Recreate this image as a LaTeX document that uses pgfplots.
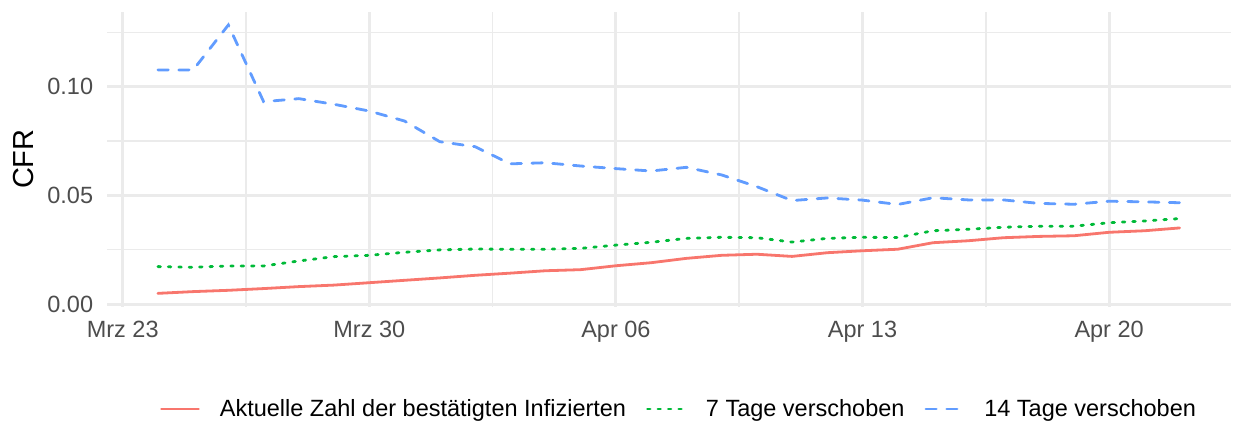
\documentclass[border=0pt]{standalone}
\usepackage{fontspec}
\setmainfont{Liberation Sans}
\usepackage{pgfplots}
\pgfplotsset{compat=1.18}
\definecolor{gridc}{HTML}{EBEBEB}
\definecolor{tickc}{HTML}{4D4D4D}
\definecolor{cred}{HTML}{F8766D}
\definecolor{cgreen}{HTML}{00BA38}
\definecolor{cblue}{HTML}{619CFF}
\begin{document}
\begin{tikzpicture}
\path[use as bounding box] (0pt,0pt) rectangle (1235pt,-423pt);
\begin{axis}[
  at={(106.8pt,-306.8pt)}, anchor=south west,
  scale only axis, width=1124.2pt, height=295.3pt,
  xmin=-0.451, xmax=31.46,
  ymin=-0.00129, ymax=0.1346,
  xtick={0,7,14,21,28},
  xticklabels={Mrz 23,Mrz 30,Apr 06,Apr 13,Apr 20},
  ytick={0,0.05,0.10},
  yticklabels={0.00,0.05,0.10},
  minor xtick={3.5,10.5,17.5,24.5},
  minor ytick={0.025,0.075,0.125},
  grid=both,
  major grid style={draw=gridc, line width=3pt},
  minor grid style={draw=gridc, line width=1.6pt},
  major tick length=0pt, minor tick length=0pt,
  axis line style={draw=none},
  xticklabel style={font=\fontsize{23.5}{28}\selectfont, text=tickc, inner sep=0pt, anchor=north, yshift=-14.2pt},
  yticklabel style={font=\fontsize{23.5}{28}\selectfont, text=tickc, inner sep=0pt, anchor=east, xshift=-13.5pt},
  ylabel={CFR},
  every axis y label/.style={at={(axis description cs:-0.07365,0.5)}, anchor=center, rotate=90, inner sep=0pt, font=\fontsize{29}{34}\selectfont},
  legend columns=3,
  legend style={draw=none, fill=none, at={(axis description cs:0.5081,-0.3461)}, anchor=center,
    font=\fontsize{23.5}{28}\selectfont,
    nodes={inner sep=0pt, anchor=west},
    /tikz/every odd column/.append style={column sep=20pt},
    /tikz/every even column/.append style={column sep=20pt}},
  legend image code/.code={\draw[#1] (0pt,0pt) -- (37pt,0pt);},
]
\addplot[cred, line width=2.8pt, line cap=round] coordinates {
(1,0.0049) (2,0.0057) (3,0.0063) (4,0.0071) (5,0.0080) (6,0.0087) (7,0.0098) (8,0.0109) (9,0.0120) (10,0.0132)
(11,0.0142) (12,0.0153) (13,0.0158) (14,0.0176) (15,0.0190) (16,0.0210) (17,0.0224) (18,0.0229) (19,0.0219) (20,0.0236)
(21,0.0245) (22,0.0252) (23,0.0282) (24,0.0291) (25,0.0305) (26,0.0311) (27,0.0314) (28,0.0330) (29,0.0337) (30,0.0350)
};
\addlegendentry{Aktuelle Zahl der bestätigten Infizierten}
\addplot[cgreen, line width=2.8pt, line cap=round, dash pattern=on 2.6pt off 7.8pt] coordinates {
(1,0.0172) (2,0.0169) (3,0.0175) (4,0.0175) (5,0.0198) (6,0.0218) (7,0.0224) (8,0.0238) (9,0.0249) (10,0.0253)
(11,0.0252) (12,0.0252) (13,0.0256) (14,0.0271) (15,0.0284) (16,0.0302) (17,0.0307) (18,0.0305) (19,0.0285) (20,0.0302)
(21,0.0307) (22,0.0306) (23,0.0337) (24,0.0344) (25,0.0353) (26,0.0358) (27,0.0358) (28,0.0374) (29,0.0382) (30,0.0393)
};
\addlegendentry{7 Tage verschoben}
\addplot[cblue, line width=2.8pt, line cap=round, dash pattern=on 10.4pt off 10.4pt] coordinates {
(1,0.1077) (2,0.1077) (3,0.1284) (4,0.0931) (5,0.0945) (6,0.0919) (7,0.0888) (8,0.0842) (9,0.0747) (10,0.0724)
(11,0.0645) (12,0.0650) (13,0.0635) (14,0.0623) (15,0.0612) (16,0.0629) (17,0.0594) (18,0.0540) (19,0.0476) (20,0.0488)
(21,0.0478) (22,0.0458) (23,0.0489) (24,0.0479) (25,0.0479) (26,0.0463) (27,0.0459) (28,0.0473) (29,0.0470) (30,0.0466)
};
\addlegendentry{14 Tage verschoben}
\end{axis}
\end{tikzpicture}
\end{document}
